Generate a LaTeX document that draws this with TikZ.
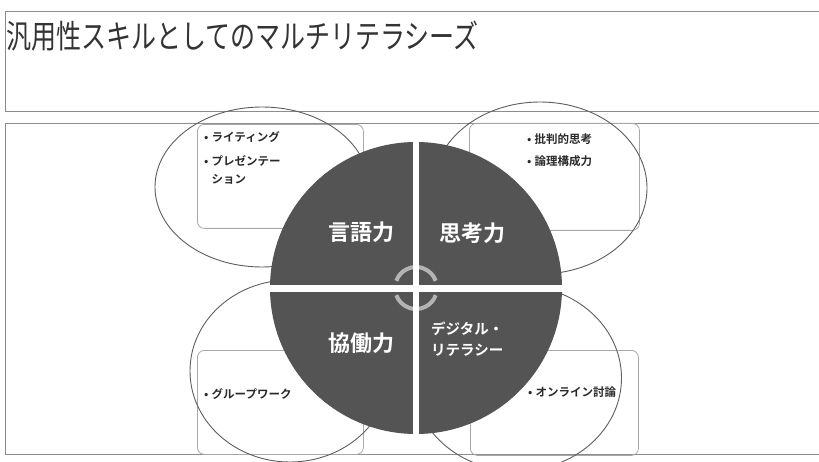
\documentclass[tikz,border=0pt]{standalone}
\usepackage{fontspec}
\setmainfont{Noto Sans CJK JP}[BoldFont={Noto Sans CJK JP Bold}]
\usetikzlibrary{shapes.geometric}
\definecolor{boxgray}{HTML}{8C8C8C}
\definecolor{ellgray}{HTML}{5E5E5E}
\definecolor{rectgray}{HTML}{A8A8A8}
\definecolor{piegray}{HTML}{545454}
\definecolor{arrowgray}{HTML}{B4B4B4}
\definecolor{titlecol}{HTML}{333333}
\definecolor{smallcol}{HTML}{2A2A2A}
\tikzset{
  panel/.style={draw=boxgray, line width=1.4pt, anchor=north west, inner sep=0pt},
  bubble/.style={draw=ellgray, line width=0.9pt, ellipse, inner sep=0pt},
  listbox/.style={draw=rectgray, line width=0.8pt, rounded corners=7pt, anchor=north west, inner sep=0pt},
  qlabel/.style={text=white, font=\fontsize{22}{24}\selectfont\bfseries, inner sep=0pt},
  item/.style={text=smallcol, font=\fontsize{11.5}{14}\selectfont\bfseries, anchor=base west, inner sep=0pt},
}
\newcommand{\bul}{\makebox[7.5pt][l]{•}}
\begin{document}
\begin{tikzpicture}[x=1pt,y=-1pt]
\useasboundingbox (0,0) rectangle (819,462);
\fill[white] (0,0) rectangle (819,462);
% panels
\node[panel, minimum width=830pt, minimum height=100pt] (titlebox) at (5,11) {};
\node[panel, minimum width=830pt, minimum height=331pt] (mainbox) at (5,123) {};
\node[text=titlecol, font=\fontsize{25}{25}\selectfont, anchor=base west, inner sep=0pt] (title) at (6,49)
  {\scalebox{1}[1.3]{汎用性スキルとしてのマルチリテラシーズ}};
% list boxes
\node[listbox, minimum width=166pt, minimum height=104pt] (r1) at (197,124) {};
\node[listbox, minimum width=170pt, minimum height=107pt] (r2) at (469,123) {};
\node[listbox, minimum width=166pt, minimum height=104pt] (r3) at (197,350) {};
\node[listbox, minimum width=168pt, minimum height=105pt] (r4) at (470,350) {};
% ellipses
\node[bubble, minimum width=214pt, minimum height=160pt] (e1) at (262,187) {};
\node[bubble, minimum width=214pt, minimum height=172pt] (e2) at (540,188) {};
\node[bubble, minimum width=200pt, minimum height=182pt] (e3) at (290,371) {};
\node[bubble, minimum width=209pt, minimum height=186pt] (e4) at (517,378) {};
% list texts
\node[item] (t1a) at (204,142) {\bul ライティング};
\node[item] (t1b) at (204,166) {\bul プレゼンテー};
\node[item] (t1c) at (204,184) {\phantom{\bul}ション};
\node[item] (t2a) at (527,144) {\bul 批判的思考};
\node[item] (t2b) at (527,166) {\bul 論理構成力};
\node[item] (t3a) at (204,398) {\bul グループワーク};
\node[item] (t4a) at (528,396) {\bul オンライン討論};
% pie
\node[circle, fill=piegray, minimum size=292pt, inner sep=0pt] (pie) at (416,288) {};
\draw[arrowgray, line width=4pt] (pie.center) ++(200:21) arc[start angle=200, end angle=340, radius=21];
\draw[arrowgray, line width=4pt] (pie.center) ++(20:21) arc[start angle=20, end angle=160, radius=21];
\fill[white] (413,138) rectangle (419,438);
\fill[white] (266,285) rectangle (566,292);
% quadrant labels
\node[qlabel] (q1) at (361,232) {言語力};
\node[qlabel] (q2) at (472,233) {思考力};
\node[qlabel] (q3) at (361,343) {協働力};
\node[text=white, font=\fontsize{14.5}{21}\selectfont\bfseries, align=left, anchor=north west, inner sep=0pt] (q4) at (431,322) {デジタル・\\リテラシー};
\end{tikzpicture}
\end{document}
